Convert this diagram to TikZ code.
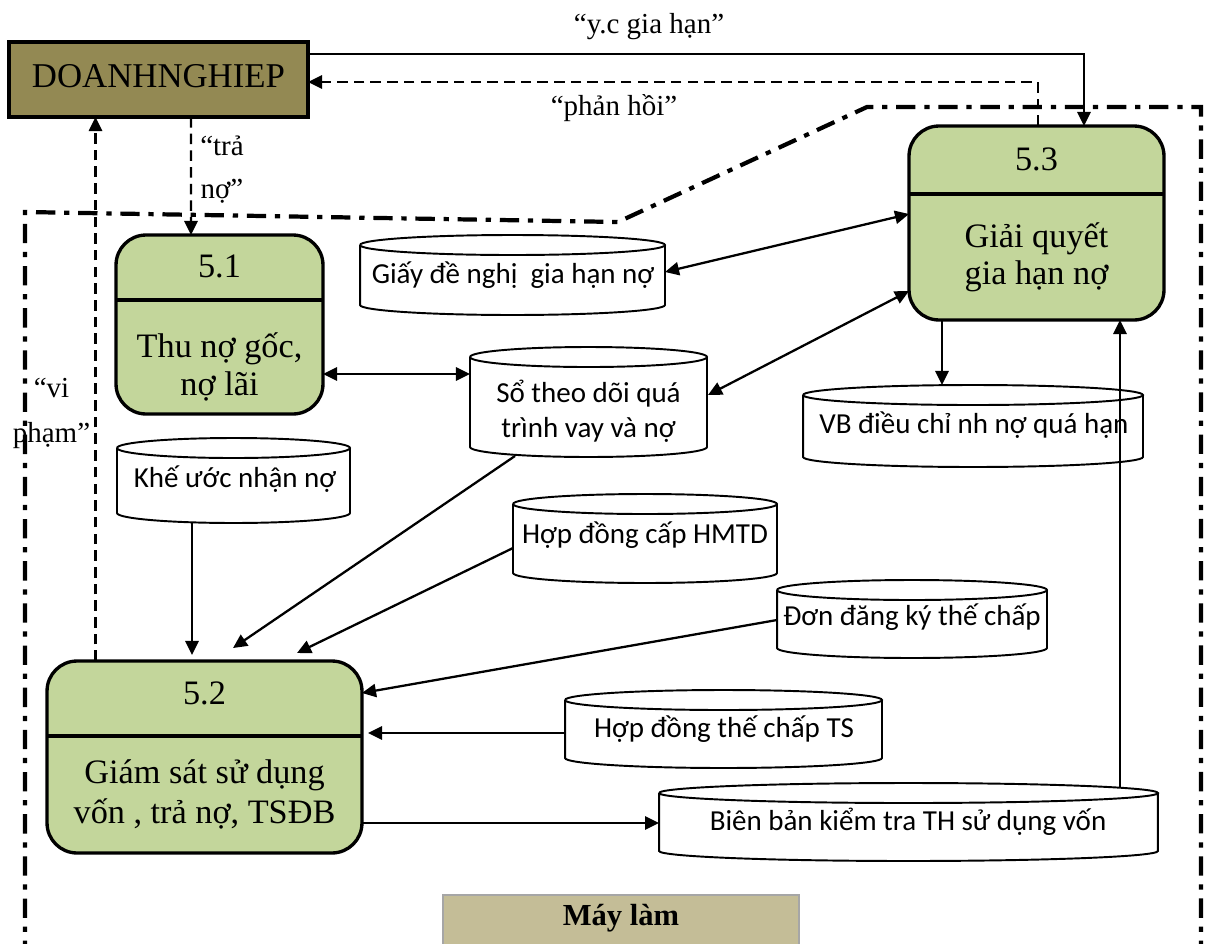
\documentclass[tikz,border=0pt]{standalone}
\usepackage{fontspec}
\setmainfont{Liberation Serif}
\newfontfamily\storefont{Carlito}
\usetikzlibrary{arrows.meta,calc}

\definecolor{dnfill}{HTML}{938953}
\definecolor{procfill}{HTML}{C3D69B}
\definecolor{mlfill}{HTML}{C4BD97}
\definecolor{mlline}{HTML}{A6A6A6}

% vertical radius of the elliptic caps of a data store
\newcommand\drumry{0.2cm}
% outline of a data store drawn around the named node
\newcommand\drum[1]{%
  \draw[storeline] let \p1=(#1.north west), \p2=(#1.south east), \n1={0.5*(\x2-\x1)} in
    (\x1,\y1-\drumry) arc[start angle=180, end angle=-180, x radius=\n1, y radius=\drumry]
    (\x1,\y1-\drumry) -- (\x1,\y2+\drumry)
      arc[start angle=180, end angle=360, x radius=\n1, y radius=\drumry]
      -- (\x2,\y1-\drumry);}

\begin{document}
\begin{tikzpicture}[x=0.02cm, y=-0.02cm,
  dnbox/.style={draw, line width=1.9pt, fill=dnfill, inner sep=0pt, outer sep=0pt},
  procbox/.style={draw, line width=1.9pt, fill=procfill, rounded corners=0.6cm, inner sep=0pt, outer sep=0pt},
  storebox/.style={inner sep=0pt, outer sep=0pt},
  storeline/.style={line width=1.1pt},
  divider/.style={line width=1.9pt},
  tx/.style={anchor=base, inner sep=0pt},
  ptext/.style={tx, font=\fontsize{19.5}{22}\selectfont},
  stext/.style={tx, font=\storefont\fontsize{16.5}{19}\selectfont},
  ltext/.style={tx, font=\fontsize{16.5}{19}\selectfont},
  tip/.tip={Triangle[length=8pt,width=7.5pt]},
  flow/.style={line width=1.3pt, -tip},
  biflow/.style={line width=1.3pt, tip-tip},
  dflow/.style={flow, line width=1.25pt, dash pattern=on 6pt off 3.5pt},
  bound/.style={line width=2.4pt, dash pattern=on 11pt off 5pt on 3pt off 5pt}
]
\clip (0,0) rectangle (1210,943);

% system boundary
\draw[bound] (25,960) -- (25,212) -- (618,222) -- (867,107) -- (1201,107) -- (1201,960);

% external entity
\node[dnbox, minimum width=5.98cm, minimum height=1.5cm] (dn) at (158.5,79.5) {};
\node[tx, font=\fontsize{19.8}{23}\selectfont] (dntxt) at (158.5,87) {DOANHNGHIEP};

% processes
\node[procbox, minimum width=4.14cm, minimum height=3.58cm] (p1) at (219.5,324.5) {};
\draw[divider] ($(p1.west)+(0,-24.5)$) -- ($(p1.east)+(0,-24.5)$);
\node[ptext] (p1id) at (219.5,277) {5.1};
\node[ptext] (p1a) at (219.5,357) {Thu nợ gốc,};
\node[ptext] (p1b) at (219.5,395) {nợ lãi};

\node[procbox, minimum width=5.10cm, minimum height=3.88cm] (p3) at (1036.5,223) {};
\draw[divider] ($(p3.west)+(0,-29)$) -- ($(p3.east)+(0,-29)$);
\node[ptext] (p3id) at (1036.5,170) {5.3};
\node[ptext] (p3a) at (1036.5,247) {Giải quyết};
\node[ptext] (p3b) at (1036.5,284) {gia hạn nợ};

\node[procbox, minimum width=6.30cm, minimum height=3.84cm] (p2) at (204.5,757) {};
\draw[divider] ($(p2.west)+(0,-21)$) -- ($(p2.east)+(0,-21)$);
\node[ptext] (p2id) at (204.5,704) {5.2};
\node[ptext] (p2a) at (204.5,783) {Giám sát sử dụng};
\node[ptext] (p2b) at (204.5,823) {vốn , trả nợ, TSĐB};

% data stores
\node[storebox, minimum width=6.10cm, minimum height=1.60cm] (giay) at (512.5,275) {};
\node[storebox, minimum width=4.74cm, minimum height=2.20cm] (so) at (588.5,402) {};
\node[storebox, minimum width=6.80cm, minimum height=1.64cm] (vb) at (973,426) {};
\node[storebox, minimum width=4.66cm, minimum height=1.70cm] (ku) at (233.5,480.5) {};
\node[storebox, minimum width=5.28cm, minimum height=1.78cm] (hm) at (645,538.5) {};
\node[storebox, minimum width=5.40cm, minimum height=1.56cm] (don) at (912,619) {};
\node[storebox, minimum width=6.34cm, minimum height=1.56cm] (ts) at (723.5,729) {};
\node[storebox, minimum width=9.98cm, minimum height=1.56cm] (bb) at (908.5,822) {};
\foreach \s in {giay,so,vb,ku,hm,don,ts,bb} {\drum{\s}}

\node[stext] (giaytxt) at (513,283) {Giấy đề nghị~ gia hạn nợ};
\node[stext] (sotxt1) at (588.5,402) {Sổ theo dõi quá};
\node[stext] (sotxt2) at (588.5,437) {trình vay và nợ};
\node[stext] (vbtxt) at (974,433) {VB điều chỉ nh nợ quá hạn};
\node[stext] (kutxt) at (235,487) {Khế ước nhận nợ};
\node[stext] (hmtxt) at (645,543) {Hợp đồng cấp HMTD};
\node[stext] (dontxt) at (912,625) {Đơn đăng ký thế chấp};
\node[stext] (tstxt) at (724,737) {Hợp đồng thế chấp TS};
\node[stext] (bbtxt) at (908,830) {Biên bản kiểm tra TH sử dụng vốn};

% flows with the external entity
\draw[flow] ($(dn.east)+(0,-25.5)$) -| ($(p3.north)+(47.5,0)$);
\draw[dflow] ($(p3.north)+(1.5,0)$) |- ($(dn.east)+(0,2.5)$);
\draw[dflow] ($(dn.south)+(32.5,0)$) -- ($(p1.north)+(-28.5,0)$);
\draw[dflow] ($(p2.north)+(-109,0)$) -- ($(dn.south)+(-63,0)$);

\node[ltext] (yc) at (649,33) {“y.c gia hạn”};
\node[ltext] (ph) at (614,115) {“phản hồi”};
\node[ltext] (tra1) at (222,155) {“trả};
\node[ltext] (tra2) at (222,198) {nợ”};
\node[ltext] (vi1) at (51.5,397) {“vi};
\node[ltext] (vi2) at (51.5,442) {phạm”};

% flows between processes and data stores
\draw[biflow] ($(p1.east)+(0,49.5)$) -- ($(so.west)+(0,-28)$);
\draw[biflow] ($(giay.east)+(0,-3)$) -- ($(p3.west)+(0,-9)$);
\draw[biflow] ($(so.east)+(1,-7)$) -- ($(p3.west)+(0,68)$);
\draw[flow] ($(p3.south)+(-94.5,0)$) -- ($(vb.north)+(-31,0)$);
\draw[flow] ($(bb.north)+(211.5,4)$) -- ($(p3.south)+(83.5,0)$);
\draw[flow] ($(ku.south)+(-41.5,0)$) -- ($(p2.north)+(-12.5,-6)$);
\draw[flow] ($(so.south)+(-73.5,-1)$) -- ($(p2.north)+(28.5,-13)$);
\draw[flow] ($(hm.west)+(0,9.5)$) -- ($(p2.north)+(92.5,-8)$);
\draw[flow] ($(don.west)+(0,1)$) -- ($(p2.east)+(0,-64)$);
\draw[flow] ($(ts.west)+(0,4)$) -- ($(p2.east)+(6,-24)$);
\draw[flow] ($(p2.east)+(0,66)$) -- ($(bb.west)+(0,1)$);

% machine part label
\node[draw=mlline, line width=1pt, fill=mlfill, minimum width=7.12cm, minimum height=1.70cm, inner sep=0pt] (ml) at (621,937.5) {};
\node[tx, font=\bfseries\fontsize{17.4}{20}\selectfont] (mltxt) at (621,925) {Máy làm};
\end{tikzpicture}
\end{document}
